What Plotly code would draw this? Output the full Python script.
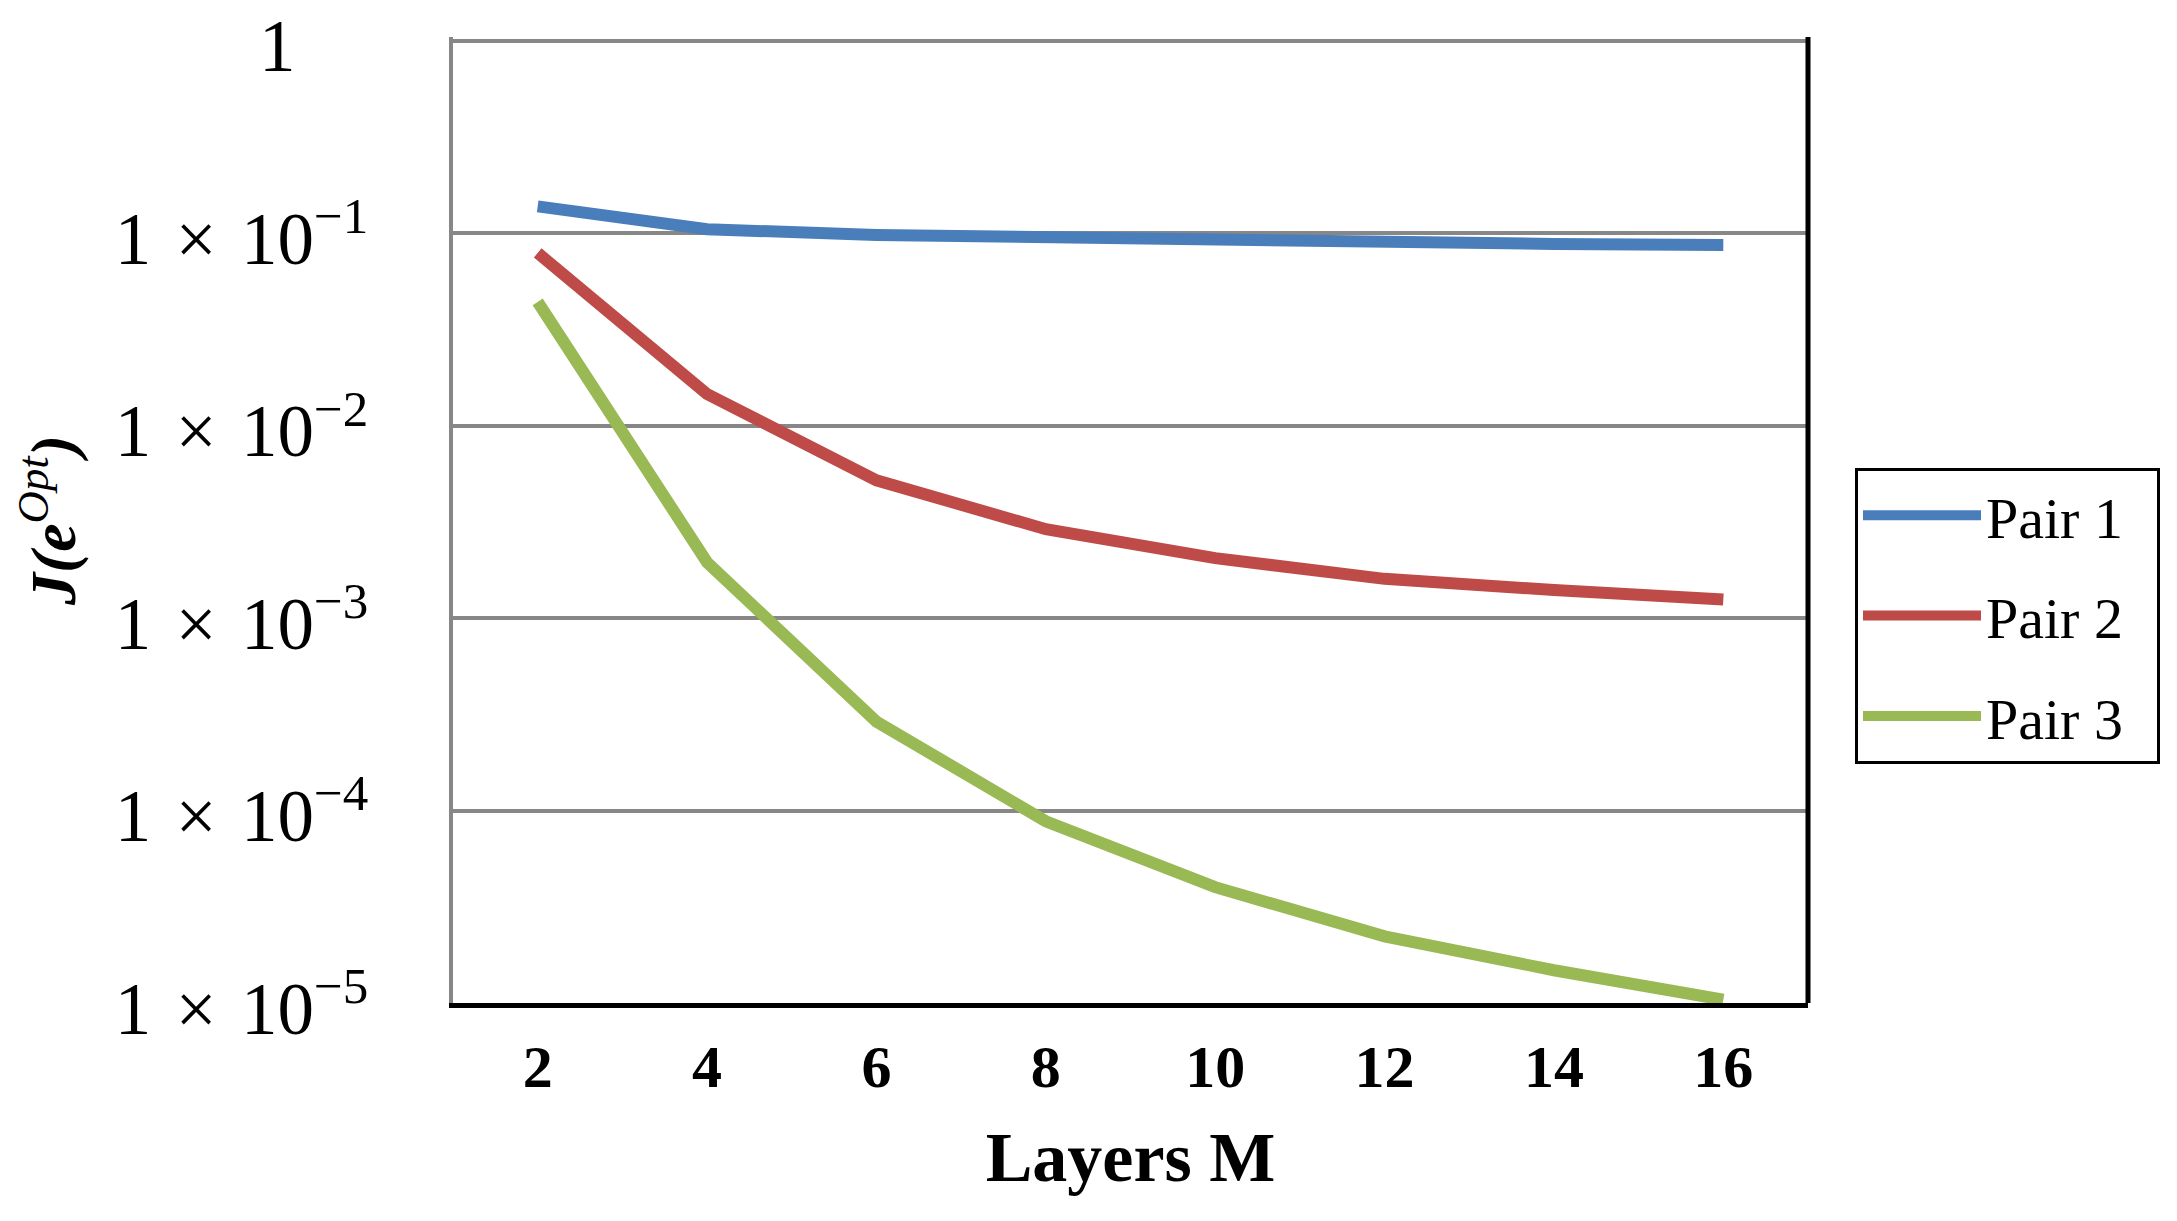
import plotly.graph_objects as go

# ---- data ----
layers = ["2", "4", "6", "8", "10", "12", "14", "16"]
pair1 = [0.138, 0.105, 0.098, 0.095, 0.092, 0.090, 0.088, 0.087]
pair2 = [0.079, 0.0146, 0.0052, 0.0029, 0.00205, 0.0016, 0.0014, 0.00125]
pair3 = [0.044, 0.00195, 0.00029, 0.000088, 0.00004, 0.0000222, 0.0000148, 0.0000104]
series_names = ["Pair 1", "Pair 2", "Pair 3"]
series_colors = ["#4A7EBB", "#BE4B48", "#98B954"]

y_tickvals = [1, 1e-1, 1e-2, 1e-3, 1e-4, 1e-5]
y_ticktext = [
    "1" + "\u00a0" * 4,
    "1\u2004×\u200410<sup>−1</sup>",
    "1\u2004×\u200410<sup>−2</sup>",
    "1\u2004×\u200410<sup>−3</sup>",
    "1\u2004×\u200410<sup>−4</sup>",
    "1\u2004×\u200410<sup>−5</sup>",
]

fig = go.Figure()
for name, vals, col in zip(series_names, [pair1, pair2, pair3], series_colors):
    fig.add_trace(go.Scatter(
        x=layers, y=vals, name=name + "\u00a0\u00a0", mode="lines",
        line=dict(color=col, width=12),
        legendgroup=name,
    ))

W, H = 2177, 1221
PL, PR, PT, PB = 445, 1800, 29, 995   # plot area edges in px
L, R, T, B = PL, W - PR, PT, H - PB

fig.update_layout(
    width=W, height=H,
    margin=dict(l=L, r=R, t=T, b=B, autoexpand=False),
    paper_bgcolor="white", plot_bgcolor="white",
    font=dict(family="Liberation Serif", color="black"),
    showlegend=True,
    legend=dict(
        x=(1847 - PL) / (PR - PL), xanchor="left",
        y=1 - (460 - PT) / (PB - PT), yanchor="top",
        font=dict(family="Liberation Serif", size=58, color="black"),
        bordercolor="black", borderwidth=3,
        bgcolor="white",
        traceorder="grouped", tracegroupgap=22,
        itemwidth=118,
    ),
    xaxis=dict(
        type="category",
        showgrid=False,
        showline=True, linecolor="black", linewidth=5,
        ticks="", ticklabelstandoff=7,
        tickfont=dict(family="Liberation Serif", size=60, color="black", weight="bold"),
        title=dict(text="<b>Layers M</b>", font=dict(family="Liberation Serif", size=70, color="black"), standoff=34),
        range=[-0.5, 7.5],
        automargin=False,
    ),
    yaxis=dict(
        type="log", range=[-5, 0.02],
        tickvals=y_tickvals, ticktext=y_ticktext,
        showgrid=True, gridcolor="#878787", gridwidth=4,
        showline=True, linecolor="#878787", linewidth=4,
        ticks="", ticklabelstandoff=66, ticklabeloverflow="allow",
        ticklabelshift=5,
        tickfont=dict(family="Liberation Serif", size=73, color="black"),
        title=dict(text="<i><b>J(e</b><sup>Opt</sup><b>)</b></i>",
                   font=dict(family="Liberation Serif", size=64, color="black"), standoff=52),
        zeroline=False,
        automargin=False,
    ),
    shapes=[dict(type="line", xref="paper", yref="paper", x0=1, x1=1, y0=0, y1=1,
                 line=dict(color="black", width=5))],
)

fig.write_html("out.html")
